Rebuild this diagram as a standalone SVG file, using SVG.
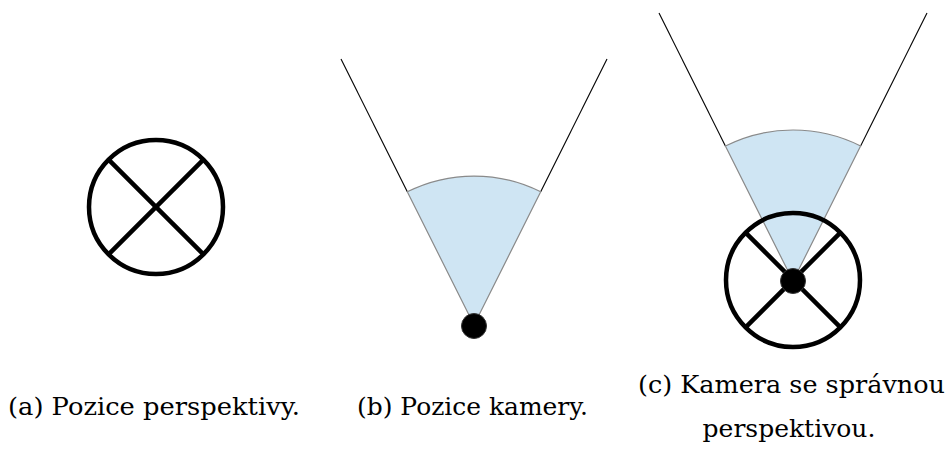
<svg xmlns="http://www.w3.org/2000/svg" width="950" height="450" viewBox="0 0 950 450">
<style>
.ring{fill:none;stroke:#000;stroke-width:4.5}
.cross{stroke:#000;stroke-width:4.5;stroke-linecap:butt}
.sector{fill:#cfe5f3;stroke:#8a8a8a;stroke-width:1.2}
.ray{stroke:#000;stroke-width:1.1}
.dot{fill:#000;stroke:#333;stroke-width:1}
.cap{font-family:'DejaVu Serif','Liberation Serif',serif;font-size:25px;fill:#000}
</style>
<rect width="950" height="450" fill="#fff"/>
<g id="a">
<circle class="ring" cx="156" cy="207" r="67"/>
<line class="cross" x1="108.6" y1="159.6" x2="203.4" y2="254.4"/>
<line class="cross" x1="203.4" y1="159.6" x2="108.6" y2="254.4"/>
</g>
<g id="b">
<line class="ray" x1="407.3" y1="191.8" x2="341" y2="59"/>
<line class="ray" x1="540.7" y1="191.8" x2="607" y2="59"/>
<path class="sector" d="M474,325 L407.3,191.8 A149,149 0 0 1 540.7,191.8 Z"/>
<circle class="dot" cx="474" cy="326" r="12.5"/>
</g>
<g id="c">
<line class="ray" x1="725.4" y1="146" x2="659" y2="13"/>
<line class="ray" x1="860.6" y1="146" x2="927" y2="13"/>
<path class="sector" d="M793,281 L725.4,146 A151,151 0 0 1 860.6,146 Z"/>
<circle class="ring" cx="793" cy="280" r="67"/>
<line class="cross" x1="745.6" y1="232.6" x2="840.4" y2="327.4"/>
<line class="cross" x1="840.4" y1="232.6" x2="745.6" y2="327.4"/>
<circle class="dot" cx="793" cy="281" r="12.5"/>
</g>
<g id="captions">
<text class="cap" x="8" y="415" textLength="292" lengthAdjust="spacingAndGlyphs">(a) Pozice perspektivy.</text>
<text class="cap" x="357" y="415" textLength="231" lengthAdjust="spacingAndGlyphs">(b) Pozice kamery.</text>
<text class="cap" x="638" y="393" textLength="307" lengthAdjust="spacingAndGlyphs">(c) Kamera se správnou</text>
<text class="cap" x="789" y="437" text-anchor="middle">perspektivou.</text>
</g>
</svg>
